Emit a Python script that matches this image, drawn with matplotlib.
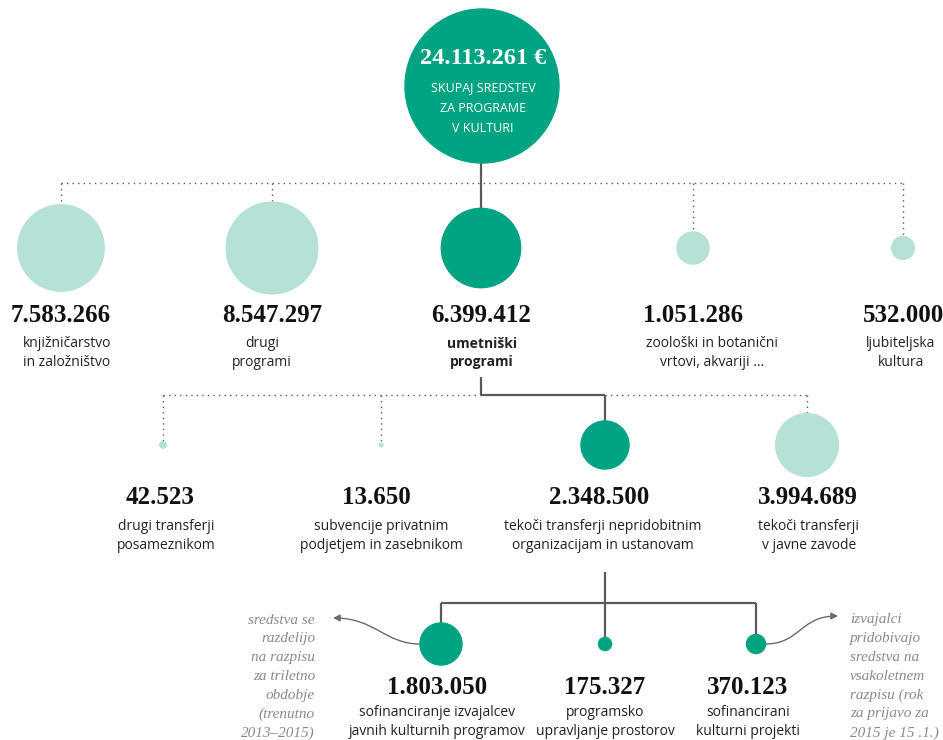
import matplotlib.pyplot as plt
from matplotlib.patches import Circle, FancyArrowPatch
from matplotlib.path import Path
import numpy as np

# data
total = 24113261
total_lines = ["SKUPAJ SREDSTEV", "ZA PROGRAME", "V KULTURI"]

lvl1_values = [7583266, 8547297, 6399412, 1051286, 532000]
lvl1_numbers = ["7.583.266", "8.547.297", "6.399.412", "1.051.286", "532.000"]
lvl1_labels = ["knjižničarstvo\nin založništvo", "drugi\nprogrami", "umetniški\nprogrami",
               "zoološki in botanični\nvrtovi, akvariji ...", "ljubiteljska\nkultura"]

lvl2_values = [42523, 13650, 2348500, 3994689]
lvl2_numbers = ["42.523", "13.650", "2.348.500", "3.994.689"]
lvl2_labels = ["drugi transferji\nposameznikom", "subvencije privatnim\npodjetjem in zasebnikom",
               "tekoči transferji nepridobitnim\norganizacijam in ustanovam", "tekoči transferji\nv javne zavode"]

lvl3_values = [1803050, 175327, 370123]
lvl3_numbers = ["1.803.050", "175.327", "370.123"]
lvl3_labels = ["sofinanciranje izvajalcev\njavnih kulturnih programov", "programsko\nupravljanje prostorov",
               "sofinancirani\nkulturni projekti"]

note_left = ["sredstva se", "razdelijo", "na razpisu", "za triletno", "obdobje", "(trenutno", "2013–2015)"]
note_right = ["izvajalci", "pridobivajo", "sredstva na", "vsakoletnem", "razpisu (rok", "za prijavo za", "2015 je 15 .1.)"]

# layout (pixels)
lvl1_x = [61, 272, 481, 693, 903]
lvl1_text_x = [67, 262, 482, 712, 901]
lvl2_x = [163, 381, 605, 807]
lvl2_text_x = [160, 376, 599, 808]
lvl2_lab_x = [166, 381, 603, 809]
lvl3_x = [441, 605, 756]
lvl3_text_x = [437, 605, 748]

dark = "#00A482"
light = "#B6E1D6"
line_c = "#5a5a5a"
num_font = "Liberation Serif"
lab_font = "Open Sans"

R0 = 77
def rad(v):
    return R0 * np.sqrt(v / total)

fig = plt.figure(figsize=(9.43, 7.4), dpi=100)
ax = fig.add_axes([0, 0, 1, 1])
ax.set_xlim(0, 943)
ax.set_ylim(740, 0)
ax.axis("off")

def dotted(xs, ys):
    ax.plot(xs, ys, color=line_c, lw=1.0, ls=(0, (1, 3)), zorder=1)

def solid(xs, ys):
    ax.plot(xs, ys, color=line_c, lw=1.6, zorder=1, solid_capstyle="butt")

# top circle
cx0, cy0 = 482, 86
ax.add_patch(Circle((cx0, cy0), R0, color=dark, zorder=2))
ax.text(cx0 + 1, 58, "24.113.261 €", ha="center", va="center", color="white",
        fontsize=17.5, fontweight="bold", family=num_font, zorder=3)
for i, t in enumerate(total_lines):
    ax.text(cx0 + 1, 88 + i * 20.5, t, ha="center", va="center",
            color="white", fontsize=9, family=lab_font, zorder=3)

# level 1
y1 = 248
hy1 = 183
solid([481, 481], [cy0 + R0, y1 - rad(lvl1_values[2])])
dotted([lvl1_x[0], lvl1_x[-1]], [hy1, hy1])
for i, v in enumerate(lvl1_values):
    r = rad(v)
    col = dark if i == 2 else light
    ax.add_patch(Circle((lvl1_x[i], y1), r, color=col, zorder=2))
    if i != 2:
        dotted([lvl1_x[i], lvl1_x[i]], [hy1, y1 - r])
    ax.text(lvl1_x[i], 315, lvl1_numbers[i], ha="center", va="center", fontsize=18,
            fontweight="bold", family=num_font, color="#111111")
    ax.text(lvl1_text_x[i], 353, lvl1_labels[i], ha="center", va="center", fontsize=10,
            family=lab_font, color="#222222", linespacing=1.35,
            fontweight="bold" if i == 2 else "normal")

# level 2
y2 = 445
hy2 = 395
solid([481, 481], [377, hy2])
solid([481, lvl2_x[2]], [hy2, hy2])
solid([lvl2_x[2], lvl2_x[2]], [hy2, y2 - rad(lvl2_values[2])])
dotted([lvl2_x[0], 481], [hy2, hy2])
dotted([lvl2_x[2], lvl2_x[3]], [hy2, hy2])
for i, v in enumerate(lvl2_values):
    r = rad(v)
    col = dark if i == 2 else light
    ax.add_patch(Circle((lvl2_x[i], y2), r, color=col, zorder=2))
    if i != 2:
        dotted([lvl2_x[i], lvl2_x[i]], [hy2, y2 - r])
    ax.text(lvl2_text_x[i], 498, lvl2_numbers[i], ha="center", va="center", fontsize=18,
            fontweight="bold", family=num_font, color="#111111")
    ax.text(lvl2_lab_x[i], 536, lvl2_labels[i], ha="center", va="center", fontsize=10,
            family=lab_font, color="#222222", linespacing=1.35)

# level 3
y3 = 644
hy3 = 603
solid([605, 605], [572, hy3])
solid([lvl3_x[0], lvl3_x[-1]], [hy3, hy3])
for i, v in enumerate(lvl3_values):
    r = rad(v)
    ax.add_patch(Circle((lvl3_x[i], y3), r, color=dark, zorder=2))
    solid([lvl3_x[i], lvl3_x[i]], [hy3, y3 - r])
    ax.text(lvl3_text_x[i], 687, lvl3_numbers[i], ha="center", va="center", fontsize=18,
            fontweight="bold", family=num_font, color="#111111")
    ax.text(lvl3_text_x[i], 722, lvl3_labels[i], ha="center", va="center", fontsize=10,
            family=lab_font, color="#222222", linespacing=1.35)

# notes
for i, t in enumerate(note_left):
    ax.text(315, 620 + i * 18.8, t, ha="right", va="center", fontsize=11, style="italic",
            family=num_font, color="#8a8a8a")
for i, t in enumerate(note_right):
    ax.text(850, 620 + i * 18.8, t, ha="left", va="center", fontsize=11, style="italic",
            family=num_font, color="#8a8a8a")

r0 = rad(lvl3_values[0])
p = Path([(lvl3_x[0] - r0, y3), (385, y3), (375, 618), (333, 618)],
         [Path.MOVETO, Path.CURVE4, Path.CURVE4, Path.CURVE4])
ax.add_patch(FancyArrowPatch(path=p, arrowstyle="-|>,head_length=4,head_width=2",
                             color="#6a6a6a", lw=1.0, zorder=1))
r2 = rad(lvl3_values[2])
p = Path([(lvl3_x[2] + r2, y3), (800, y3), (800, 616), (838, 616)],
         [Path.MOVETO, Path.CURVE4, Path.CURVE4, Path.CURVE4])
ax.add_patch(FancyArrowPatch(path=p, arrowstyle="-|>,head_length=4,head_width=2",
                             color="#6a6a6a", lw=1.0, zorder=1))

fig.savefig("out.png", dpi=100, facecolor="white")
